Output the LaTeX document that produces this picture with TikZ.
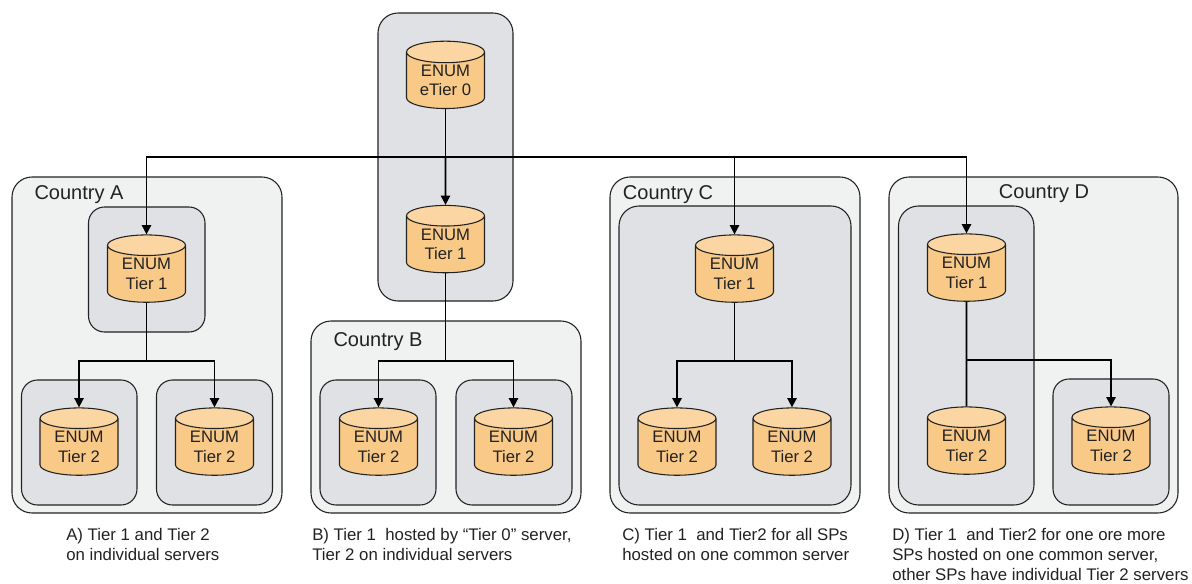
\documentclass[tikz,border=0pt]{standalone}
\usepackage{fontspec}
\setmainfont{Liberation Sans}
\usetikzlibrary{arrows.meta, shapes.geometric}

\definecolor{countryfill}{HTML}{F0F2F2}
\definecolor{serverfill}{HTML}{E0E1E4}
\definecolor{bodyfill}{HTML}{F9C987}
\definecolor{capfill}{HTML}{FBD6A3}
\definecolor{linecol}{HTML}{222222}

\tikzset{
    country/.style={draw=linecol, line width=0.8pt, fill=countryfill, rounded corners=15pt},
    server/.style={draw=linecol, line width=0.8pt, fill=serverfill, rounded corners=12pt},
    enum/.style={cylinder, shape border rotate=90, draw=linecol, line width=0.8pt, aspect=0.42,
        minimum width=58.5pt, minimum height=50.5pt, inner sep=0pt, align=center,
        cylinder uses custom fill, cylinder body fill=bodyfill, cylinder end fill=capfill,
        font=\fontsize{12.5pt}{14.5pt}\selectfont, text=linecol},
    link/.style={draw=black, line width=1.25pt},
    linkarrow/.style={link, -{Triangle[length=7pt, width=7pt]}},
    title/.style={font=\fontsize{15pt}{17pt}\selectfont, text=linecol},
    caption/.style={font=\fontsize{12.6pt}{15.2pt}\selectfont, text=linecol, align=left, anchor=north west, inner sep=0pt},
}

\begin{document}
\begin{tikzpicture}[x=0.75pt, y=-0.75pt]
    \useasboundingbox (0, 0) rectangle (1192, 583);

    % Cajas de los paises
    \draw[country] (12, 177) rectangle (282, 513);
    \draw[country] (311, 321) rectangle (581, 513);
    \draw[country] (610, 177) rectangle (860, 513);
    \draw[country] (889, 177) rectangle (1178, 513);

    % Cajas de los servidores
    \draw[server, rounded corners=15pt] (378, 13) rectangle (513, 301);
    \draw[server] (88.5, 207) rectangle (205, 332);
    \draw[server] (21.5, 380) rectangle (137, 505);
    \draw[server] (156.5, 380) rectangle (272.5, 505);
    \draw[server] (320, 380) rectangle (436, 505);
    \draw[server] (456, 380) rectangle (572, 505);
    \draw[server, rounded corners=15pt] (619, 206) rectangle (851, 505);
    \draw[server, rounded corners=15pt] (898.5, 206) rectangle (1034, 505);
    \draw[server] (1053, 379) rectangle (1169, 505);

    % Titulos
    \node[title] (titleA) at (79, 195) {Country A};
    \node[title] (titleB) at (378, 342) {Country B};
    \node[title] (titleC) at (668, 195) {Country C};
    \node[title] (titleD) at (1044, 194) {Country D};

    % Cilindros
    \node[enum] (etier) at (445.5, 80.5) {ENUM\\eTier 0};
    \node[enum] (tierB) at (445.5, 244.5) {ENUM\\Tier 1};
    \node[enum] (tierA) at (146.5, 274) {ENUM\\Tier 1};
    \node[enum] (tierC) at (734.5, 274) {ENUM\\Tier 1};
    \node[enum] (tierD) at (966.5, 273) {ENUM\\Tier 1};
    \node[enum] (twoAa) at (79, 447) {ENUM\\Tier 2};
    \node[enum] (twoAb) at (214.5, 447) {ENUM\\Tier 2};
    \node[enum] (twoBa) at (378.5, 447) {ENUM\\Tier 2};
    \node[enum] (twoBb) at (513.5, 447) {ENUM\\Tier 2};
    \node[enum] (twoCa) at (677, 447) {ENUM\\Tier 2};
    \node[enum] (twoCb) at (792, 447) {ENUM\\Tier 2};
    \node[enum] (twoDa) at (966.5, 446) {ENUM\\Tier 2};
    \node[enum] (twoDb) at (1111, 446) {ENUM\\Tier 2};

    % Puntos de union
    \coordinate (bus) at (445.5, 157);
    \coordinate (joinA) at (146.5, 361);
    \coordinate (joinB) at (445.5, 361);
    \coordinate (joinC) at (734.5, 361);
    \coordinate (joinD) at (966.5, 360);

    % Lineas desde el nivel 0
    \draw[link] (etier.south) -- (bus);
    \draw[linkarrow] (bus) -- (tierB.north);
    \draw[linkarrow] (bus) -| (tierA.north);
    \draw[linkarrow] (bus) -| (tierC.north);
    \draw[linkarrow] (bus) -| (tierD.north);

    % Lineas hacia el nivel 2
    \draw[link] (tierA.south) -- (joinA);
    \draw[linkarrow] (joinA) -| (twoAa.north);
    \draw[linkarrow] (joinA) -| (twoAb.north);
    \draw[link] (tierB.south) -- (joinB);
    \draw[linkarrow] (joinB) -| (twoBa.north);
    \draw[linkarrow] (joinB) -| (twoBb.north);
    \draw[link] (tierC.south) -- (joinC);
    \draw[linkarrow] (joinC) -| (twoCa.north);
    \draw[linkarrow] (joinC) -| (twoCb.north);
    \draw[link] (tierD.south) -- (twoDa.north);
    \draw[linkarrow] (joinD) -| (twoDb.north);

    % Textos de abajo
    \node[caption] (capA) at (66, 528) {A) Tier 1 and Tier 2\\on individual servers};
    \node[caption] (capB) at (312, 528) {B) Tier 1\ \ hosted by “Tier 0” server,\\Tier 2 on individual servers};
    \node[caption] (capC) at (622, 528) {C) Tier 1\ \ and Tier2 for all SPs\\hosted on one common server};
    \node[caption] (capD) at (892, 528) {D) Tier 1\ \ and Tier2 for one ore more\\SPs hosted on one common server,\\other SPs have individual Tier 2 servers};
\end{tikzpicture}
\end{document}
